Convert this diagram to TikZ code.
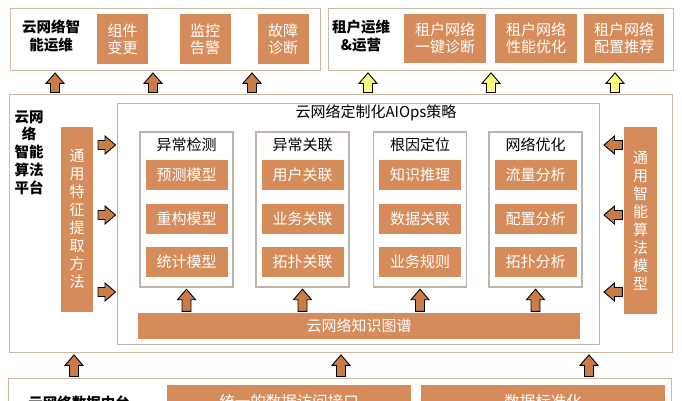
\documentclass[tikz,border=0pt]{standalone}
\usepackage{fontspec}
\setmainfont{Noto Sans CJK SC}
\usetikzlibrary{calc}

\definecolor{boxorange}{RGB}{213,140,90}
\definecolor{arrowbrown}{RGB}{201,124,72}
\definecolor{arrowyellow}{RGB}{255,255,128}
\definecolor{framecol}{RGB}{205,185,165}
\definecolor{colframe}{RGB}{190,180,170}

\tikzset{
  frame/.style={draw=framecol, line width=1.4pt, anchor=north west, inner sep=0pt},
  colbox/.style={draw=colframe, line width=1.4pt, inner sep=0pt, minimum width=93, minimum height=155},
  orangebox/.style={fill=boxorange, text=white, align=center, inner sep=0pt, font=\fontsize{15}{17}\selectfont},
  titletext/.style={align=center, font=\fontsize{14.5}{17.5}\selectfont\bfseries},
  plaintext/.style={align=center, font=\fontsize{15}{17}\selectfont},
  arrowline/.style={draw=black, line width=0.9pt, line join=miter},
}

% block arrow from #2 to #3
\newcommand{\blockarrow}[3][arrowbrown]{%
  \draw[arrowline, fill=#1] let \p1=(#2), \p2=(#3),
    \n1={atan2(\y2-\y1,\x2-\x1)}, \n2={veclen(\x2-\x1,\y2-\y1)} in
    [shift={(\p1)}, rotate=\n1]
    (1.5,-4.5) -- (\n2-12,-4.5) -- (\n2-12,-9) -- (\n2-1.5,0) -- (\n2-12,9)
    -- (\n2-12,4.5) -- (1.5,4.5) -- cycle;
}

\begin{document}
\begin{tikzpicture}[x=1pt, y=-1pt]
  \useasboundingbox (0,0) rectangle (682,400);
  \clip (0,0) rectangle (682,400);

  % Top row
  \node[frame, minimum width=310, minimum height=62] (opsframe) at (10,8) {};
  \node[titletext] (opstitle) at (51,36) {云网络智\\能运维};
  \node[orangebox, minimum width=51, minimum height=50] (change) at (122.5,39) {组件\\变更};
  \node[orangebox, minimum width=51, minimum height=50] (monitor) at (205,39) {监控\\告警};
  \node[orangebox, minimum width=51, minimum height=50] (fault) at (283,39) {故障\\诊断};

  \node[frame, minimum width=345, minimum height=62] (tenantframe) at (328,8) {};
  \node[titletext] (tenanttitle) at (361,36) {租户运维\\\&运营};
  \node[orangebox, minimum width=82, minimum height=49] (diag) at (445,38.5) {租户网络\\一键诊断};
  \node[orangebox, minimum width=82, minimum height=49] (perf) at (536,38.5) {租户网络\\性能优化};
  \node[orangebox, minimum width=80, minimum height=49] (conf) at (624,38.5) {租户网络\\配置推荐};

  % Algorithm platform
  \node[frame, minimum width=663, minimum height=258] (midframe) at (9,94) {};
  \node[titletext, font=\fontsize{14.5}{17.8}\selectfont\bfseries] (midtitle) at (29,152.5) {云网\\络\\智能\\算法\\平台};
  \node[orangebox, minimum width=32, minimum height=185, font=\fontsize{15}{18}\selectfont] (featbox) at (77,219.5)
    {通\\用\\特\\征\\提\\取\\方\\法};
  \node[orangebox, minimum width=33, minimum height=187, font=\fontsize{15}{18}\selectfont] (algobox) at (640.5,220.5)
    {通\\用\\智\\能\\算\\法\\模\\型};

  \node[draw=colframe, line width=1.4pt, anchor=north west, minimum width=482, minimum height=241] (aiops) at (117,103) {};
  \node[plaintext] (aiopstitle) at (376,113) {云网络定制化AIOps策略};

  \foreach \i/\cx/\head/\ia/\ib/\ic in {
      1/186.5/异常检测/预测模型/重构模型/统计模型,
      2/302.5/异常关联/用户关联/业务关联/拓扑关联,
      3/420/根因定位/知识推理/数据关联/业务规则,
      4/535.5/网络优化/流量分析/配置分析/拓扑分析} {
    \node[colbox] (col\i) at (\cx,209.5) {};
    \node[plaintext] (colhead\i) at (\cx,145) {\head};
    \node[orangebox, minimum width=82, minimum height=30] (item\i-1) at (\cx,175) {\ia};
    \node[orangebox, minimum width=82, minimum height=30] (item\i-2) at (\cx,218.5) {\ib};
    \node[orangebox, minimum width=82, minimum height=30] (item\i-3) at (\cx,262) {\ic};
  }

  \node[orangebox, minimum width=442, minimum height=26] (kgraph) at (359,326) {云网络知识图谱};

  % Data platform
  \node[frame, minimum width=663, minimum height=60] (dataframe) at (8,378) {};
  \node[titletext] (datatitle) at (79,403) {云网络数据中台};
  \node[orangebox, minimum width=244, minimum height=34, font=\fontsize{15.5}{18}\selectfont] (access) at (289,402) {统一的数据访问接口};
  \node[orangebox, minimum width=244, minimum height=34, font=\fontsize{15.5}{18}\selectfont] (standard) at (543,402) {数据标准化};

  % Arrows to the top row
  \foreach \ax in {55,153,252}
    \blockarrow{\ax,0 |- midframe.north}{\ax,0 |- opsframe.south};
  \foreach \ax in {368,491,615}
    \blockarrow[arrowyellow]{\ax,0 |- midframe.north}{\ax,0 |- tenantframe.south};

  % Side arrows
  \foreach \ay in {145,215,292} {
    \blockarrow{96.5,\ay}{aiops.west |- 0,\ay};
    \blockarrow{algobox.west |- 0,\ay}{602.5,\ay};
  }

  % Knowledge graph to columns
  \foreach \i in {1,...,4}
    \blockarrow{col\i.south |- kgraph.north}{col\i.south};

  % Data platform to algorithm platform
  \foreach \ax in {74,341,589}
    \blockarrow{\ax,0 |- dataframe.north}{\ax,0 |- midframe.south};
\end{tikzpicture}
\end{document}
